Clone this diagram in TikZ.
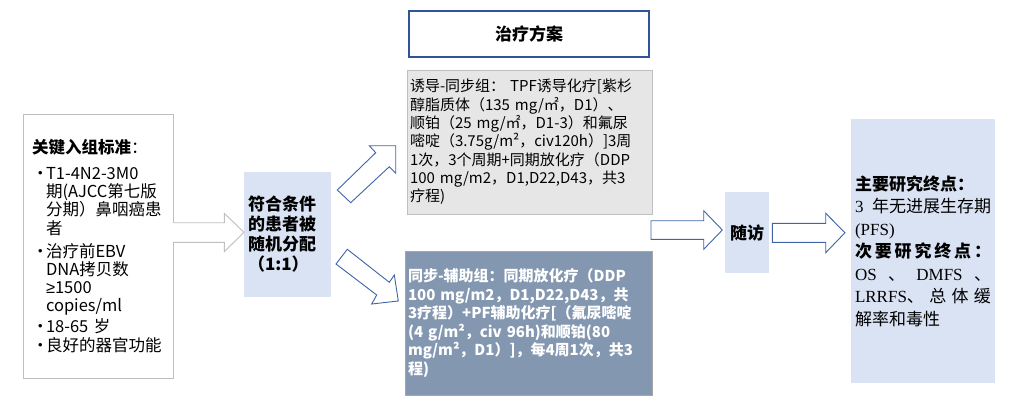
\documentclass[tikz,border=0pt]{standalone}
\usepackage{fontspec}
\setmainfont{Noto Sans CJK SC}
\newfontfamily\lserif{Liberation Serif}
\newfontfamily\lsans{Liberation Sans}
\setlength\parindent{0pt}
\definecolor{boxgray}{HTML}{BFBFBF}
\definecolor{lightfill}{HTML}{E7E6E6}
\definecolor{darkfill}{HTML}{8497B0}
\definecolor{darkbord}{HTML}{A6A6A6}
\definecolor{paleblue}{HTML}{DAE3F3}
\definecolor{titleblue}{HTML}{2F5597}
\definecolor{arrowblue}{HTML}{3F64A8}
\newcommand\bul{\makebox[14pt][l]{•}}
\newcommand\ind{\hspace*{14pt}}
\begin{document}
\begin{tikzpicture}[x=1pt,y=-1pt,
  every node/.style={inner sep=0pt, outer sep=0pt},
  critbox/.style={draw=boxgray, line width=0.9pt, fill=white},
  graybox/.style={draw=boxgray, line width=0.9pt, fill=lightfill},
  darkbox/.style={draw=darkbord, line width=0.9pt, fill=darkfill, text=white},
  bluebox/.style={fill=paleblue},
  titlebox/.style={draw=titleblue, line width=1.1pt, fill=white},
  barrow/.style={draw=arrowblue, line width=0.9pt, fill=white, line join=miter},
  garrow/.style={draw=boxgray, line width=0.9pt, fill=white, line join=miter}]
\useasboundingbox (0,0) rectangle (1026,418);

% title
\node[titlebox, anchor=north west, minimum width=240pt, minimum height=46pt,
  font=\bfseries\fontsize{17}{20}\selectfont] (title) at (409,11) {治疗方案};

% inclusion criteria
\node[critbox, anchor=north west, minimum width=150pt, minimum height=264pt,
  text width=132pt, inner xsep=9pt, align=left,
  font=\fontsize{16.5}{18.3}\selectfont] (crit) at (23,114) {%
\textbf{关键入组标准}：\\[8pt]
\bul T1-4N2-3M0\\
\ind 期(AJCC第七版\\
\ind 分期）鼻咽癌患\\
\ind 者\\[4.5pt]
\bul 治疗前EBV\\
\ind DNA拷贝数\\
\ind {\lsans ≥}1500\\
\ind copies/ml\\[2.5pt]
\bul 18-65 岁\\[0.7pt]
\bul 良好的器官功能};

% randomisation
\node[bluebox, anchor=north west, minimum width=87pt, minimum height=125pt,
  text width=79pt, inner xsep=4pt, align=left,
  font=\bfseries\fontsize{17}{20}\selectfont] (rand) at (244,172)
  {符合条件\\的患者被\\随机分配\\（1:1）};

% induction arm
\node[graybox, anchor=north west, minimum width=245pt, minimum height=144pt,
  text width=239pt, inner xsep=3pt, align=left,
  font=\fontsize{15}{18.3}\selectfont] (ind) at (407,70) {%
诱导-同步组：\ TPF诱导化疗[紫杉\\
醇脂质体（135 mg/㎡，D1）、\\
顺铂（25 mg/㎡，D1-3）和氟尿\\
嘧啶（3.75g/m²，civ120h）]3周\\
1次，3个周期+同期放化疗（DDP\\
100 mg/m2，D1,D22,D43，共3\\
疗程)};

% adjuvant arm
\node[darkbox, anchor=north west, minimum width=247pt, minimum height=144pt,
  text width=241pt, inner xsep=3pt, align=left,
  font=\bfseries\fontsize{15}{18.6}\selectfont] (adj) at (405,251) {%
同步-辅助组：同期放化疗（DDP\\
100 mg/m2，D1,D22,D43，共\\
3疗程）+PF辅助化疗[（氟尿嘧啶\\
(4 g/m²，civ 96h)和顺铂(80\\
mg/m²，D1）]，每4周1次，共3\\
程)};

% follow-up
\node[bluebox, anchor=north west, minimum width=44pt, minimum height=81pt,
  font=\bfseries\fontsize{17}{20}\selectfont] (fu) at (725,192) {随访};

% endpoints
\node[bluebox, anchor=north west, minimum width=144pt, minimum height=264pt,
  text width=136pt, inner xsep=4pt, align=left,
  font=\fontsize{17}{22.5}\selectfont] (endp) at (851,119) {%
\textbf{主要研究终点：}\\
\makebox[136pt][s]{{\lserif 3}\hfil 年无进展生存期}\\
{\lserif (PFS)}\\
\makebox[136pt][s]{\bfseries 次\hfil 要\hfil 研\hfil 究\hfil 终\hfil 点\hfil ：}\\
\makebox[136pt][s]{{\lserif OS}\hfil 、\hfil{\lserif DMFS}\hfil 、}\\
\makebox[136pt][s]{{\lserif LRRFS}、\hfil 总\hfil 体\hfil 缓}\\
解率和毒性};

% block arrows
\draw[garrow] (173,222.7) -- (224.3,222.7) -- (224.3,213.3) -- (244,232.3)
  -- (224.3,251.7) -- (224.3,242.3) -- (173,242.3);
\draw[barrow] (337.3,190) -- (375.7,152.7) -- (369.3,145.7) -- (395.7,145.7)
  -- (395.7,173.3) -- (389.3,166.7) -- (350.7,202.7) -- cycle;
\draw[barrow] (347.3,249.3) -- (389.3,282.3) -- (394.3,275) -- (398.3,301)
  -- (371.7,304) -- (376.7,295) -- (336,264) -- cycle;
\draw[barrow] (651,220.7) -- (703.7,220.7) -- (703.7,210.7) -- (722.3,230)
  -- (703.7,249.3) -- (703.7,239.3) -- (651,239.3) -- cycle;
\draw[barrow] (772.3,223.3) -- (825.7,223.3) -- (825.7,213.3) -- (845,232.7)
  -- (825.7,252.7) -- (825.7,242.3) -- (772.3,242.3) -- cycle;
\end{tikzpicture}
\end{document}
